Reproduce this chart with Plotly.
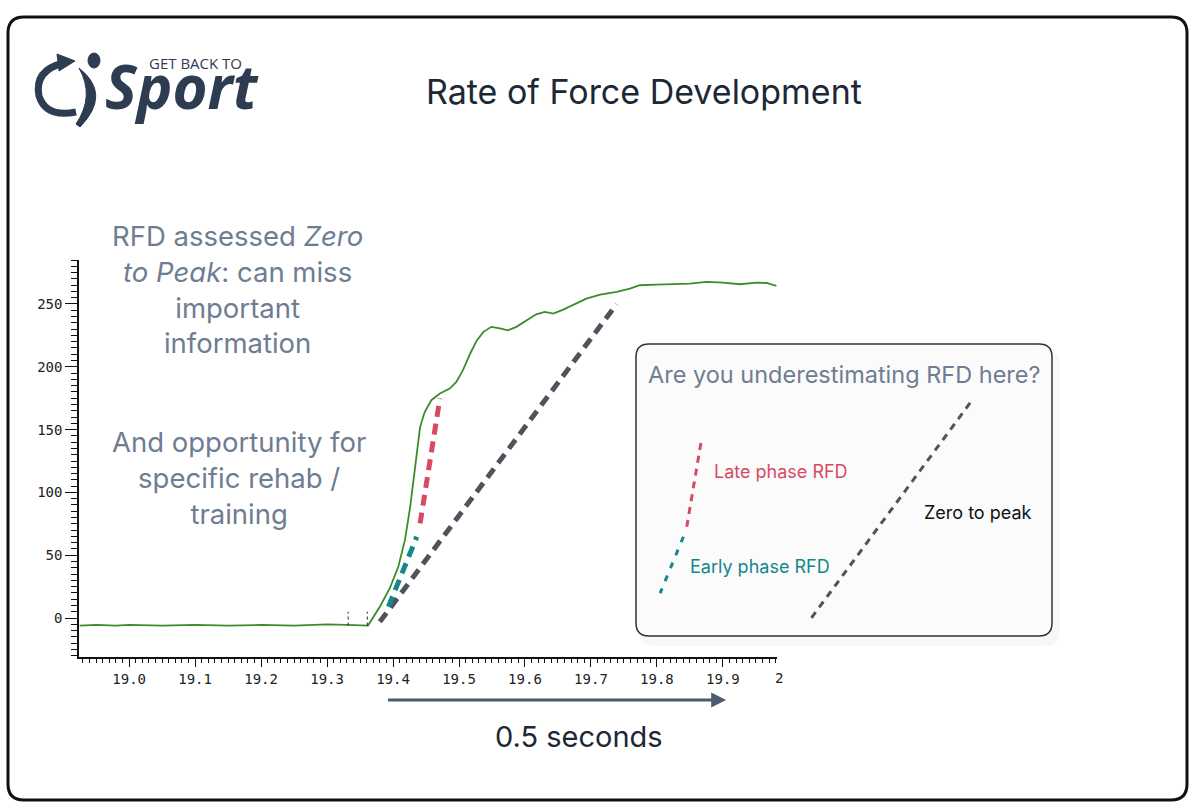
import plotly.graph_objects as go

# force trace (time in s, force in arbitrary units)
time_s = [18.925, 18.95, 18.98, 19.0, 19.05, 19.1, 19.15, 19.2, 19.25, 19.3, 19.33, 19.362,
          19.380, 19.395, 19.408, 19.418, 19.426, 19.432, 19.437, 19.441, 19.448, 19.458,
          19.471, 19.486, 19.496, 19.506, 19.517, 19.527, 19.537, 19.549, 19.562, 19.574,
          19.587, 19.602, 19.617, 19.630, 19.643, 19.658, 19.673, 19.693, 19.714, 19.739,
          19.759, 19.774, 19.799, 19.825, 19.850, 19.875, 19.900, 19.926, 19.951, 19.966, 19.981]
force = [-6, -5.5, -6, -5.5, -6, -5.5, -6, -5.5, -6, -5, -5.5, -6,
         9, 23.6, 40.8, 62, 88.5, 115, 136, 152, 164, 173.4,
         178.8, 182.7, 188, 197.3, 210.6, 221, 227.8, 231.8, 230.5, 229,
         231.8, 237, 241.8, 243.7, 242.4, 245.5, 249, 254.3, 257.5, 259.6,
         262.2, 264.9, 265.4, 265.7, 266.2, 267.6, 267, 265.7, 267, 266.7, 264.4]

# small dotted event markers on the baseline
marker_t = [19.332, 19.361]
marker_lo = -6
marker_hi = 5

# RFD slope lines on the trace
early_t = [19.393, 19.436]
early_f = [9, 64.7]
late_t = [19.441, 19.471]
late_f = [75.3, 174.8]
peak_t = [19.380, 19.739]
peak_f = [-3, 250]

# schematic lines in the inset box (box units 0..1)
inset_late_u = [0.156, 0.122]
inset_late_v = [0.661, 0.374]
inset_early_u = [0.114, 0.058]
inset_early_v = [0.340, 0.147]
inset_peak_u = [0.803, 0.418]
inset_peak_v = [0.798, 0.055]

W, H = 1200, 812
def px(x):
    return x / W
def py(y):
    return 1 - y / H

GREEN = "#3c8c2c"
TEAL = "#13878a"
RED = "#d64a63"
GREY = "#4f535b"
SLATE = "#6e7d92"
NAVY = "#1c2836"
LOGO = "#2d3c50"
FONT = "Inter"

fig = go.Figure()

fig.add_trace(go.Scatter(x=time_s, y=force, mode="lines", line=dict(color=GREEN, width=1.8),
                         hoverinfo="skip"))
for t in marker_t:
    fig.add_trace(go.Scatter(x=[t, t], y=[marker_lo, marker_hi], mode="lines",
                             line=dict(color="#222222", width=1, dash="dot"), hoverinfo="skip"))

fig.add_trace(go.Scatter(x=peak_t, y=peak_f, mode="lines", line=dict(color=GREY, width=5, dash="11px,7px")))
fig.add_trace(go.Scatter(x=early_t, y=early_f, mode="lines", line=dict(color=TEAL, width=5, dash="11px,7px")))
fig.add_trace(go.Scatter(x=late_t, y=late_f, mode="lines", line=dict(color=RED, width=5, dash="11px,7px")))

# inset lines
fig.add_trace(go.Scatter(x=inset_late_u, y=inset_late_v, xaxis="x2", yaxis="y2", mode="lines",
                         line=dict(color=RED, width=3, dash="7px,6px")))
fig.add_trace(go.Scatter(x=inset_early_u, y=inset_early_v, xaxis="x2", yaxis="y2", mode="lines",
                         line=dict(color=TEAL, width=3, dash="6px,8px")))
fig.add_trace(go.Scatter(x=inset_peak_u, y=inset_peak_v, xaxis="x2", yaxis="y2", mode="lines",
                         line=dict(color=GREY, width=3, dash="7px,6px")))


def rounded(x0, y0, x1, y1, r):
    # rounded rect path in paper coords, from pixel corners
    pts = [
        f"M {px(x0 + r)},{py(y0)}", f"L {px(x1 - r)},{py(y0)}", f"Q {px(x1)},{py(y0)} {px(x1)},{py(y0 + r)}",
        f"L {px(x1)},{py(y1 - r)}", f"Q {px(x1)},{py(y1)} {px(x1 - r)},{py(y1)}",
        f"L {px(x0 + r)},{py(y1)}", f"Q {px(x0)},{py(y1)} {px(x0)},{py(y1 - r)}",
        f"L {px(x0)},{py(y0 + r)}", f"Q {px(x0)},{py(y0)} {px(x0 + r)},{py(y0)}", "Z",
    ]
    return " ".join(pts)


def path(cmds):
    out = []
    for c in cmds:
        if isinstance(c, str):
            out.append(c)
        else:
            out.append(f"{px(c[0])},{py(c[1])}")
    return " ".join(out)


shapes = [
    # outer slide frame
    dict(type="path", xref="paper", yref="paper", path=rounded(8, 17, 1187, 800, 16),
         line=dict(color="#111111", width=3)),
    # inset shadow + box
    dict(type="path", xref="paper", yref="paper", path=rounded(640, 350, 1060, 646, 14),
         fillcolor="rgba(0,0,0,0.03)", line=dict(width=0), layer="below"),
    dict(type="path", xref="paper", yref="paper", path=rounded(636, 344, 1052, 636, 13),
         fillcolor="#fbfbfc", line=dict(color="#333333", width=1.5), layer="below"),
    # logo: swoosh arc, arrow head, runner head and body
    dict(type="path", xref="paper", yref="paper",
         path=path(["M", (64, 63), "Q", (34, 70), (39, 96), "Q", (46, 118), (76, 112)]),
         line=dict(color=LOGO, width=7)),
    dict(type="path", xref="paper", yref="paper",
         path=path(["M", (57, 54), "L", (75, 61), "L", (59, 71), "Z"]),
         fillcolor=LOGO, line=dict(color=LOGO, width=1)),
    dict(type="circle", xref="paper", yref="paper", x0=px(88), x1=px(100), y0=py(53), y1=py(68),
         fillcolor=LOGO, line=dict(color=LOGO, width=1)),
    dict(type="path", xref="paper", yref="paper",
         path=path(["M", (79, 68), "Q", (112, 94), (80, 127), "L", (76, 124), "Q", (95, 96), (79, 68), "Z"]),
         fillcolor=LOGO, line=dict(color=LOGO, width=1)),
]


def label(text, x, y, size, color, family=FONT, xanchor="center"):
    return dict(text=text, x=px(x), y=py(y), xref="paper", yref="paper", showarrow=False,
                xanchor=xanchor, yanchor="middle", align="center",
                font=dict(family=family, size=size, color=color))


annotations = [
    label("Rate of Force Development", 644, 92, 34, NAVY),
    label("<b><i>Sport</i></b>", 103, 86, 60, LOGO, family="Open Sans", xanchor="left"),
    label("GET BACK TO", 147, 63, 15, LOGO, family="Open Sans", xanchor="left"),
    label("RFD assessed <i>Zero</i><br><i>to Peak</i>: can miss<br>important<br>information",
          237, 289, 27.5, SLATE),
    label("And opportunity for<br>specific rehab /<br>training", 239, 478, 27.5, SLATE),
    label("0.5 seconds", 579, 736, 29, NAVY),
    # clipped last tick label of the screenshot
    label("2", 773, 678, 14, "#222222", family="DejaVu Sans Mono", xanchor="left"),
    # time arrow under the axis
    dict(text="", x=19.905, y=py(700), xref="x", yref="paper", axref="x", ax=19.39, ayref="pixel", ay=0,
         showarrow=True, arrowhead=2, arrowsize=1, arrowwidth=3, arrowcolor="#4d5b70"),
    # inset text
    label("Are you underestimating RFD here?", 844, 374, 23.5, SLATE),
    label("Late phase RFD", 712, 471, 18, RED, xanchor="left"),
    label("Early phase RFD", 688, 566, 18, TEAL, xanchor="left"),
    label("Zero to peak", 922, 512, 18, "#111111", xanchor="left"),
]

tickfont = dict(family="DejaVu Sans Mono", size=14, color="#222222")

fig.update_layout(
    width=W, height=H, showlegend=False,
    margin=dict(l=0, r=0, t=0, b=0),
    paper_bgcolor="white", plot_bgcolor="rgba(0,0,0,0)",
    shapes=shapes, annotations=annotations,
    xaxis=dict(domain=[px(79), px(777)], range=[18.924, 19.982], showgrid=False, zeroline=False,
               showline=True, linecolor="#111111", linewidth=1.5,
               ticks="outside", ticklen=8, tickwidth=1.2, tickcolor="#111111", dtick=0.1, tick0=19.0,
               tickformat=".1f", tickfont=tickfont, anchor="y",
               minor=dict(ticks="outside", dtick=0.01, ticklen=4, tickcolor="#111111", showgrid=False)),
    yaxis=dict(domain=[py(657), py(260)], range=[-31, 285], showgrid=False, zeroline=False,
               showline=True, linecolor="#111111", linewidth=1.5,
               ticks="outside", ticklen=12, tickwidth=1.2, tickcolor="#111111", dtick=50, tick0=0,
               tickfont=tickfont, anchor="x",
               minor=dict(ticks="outside", dtick=5, ticklen=6, tickcolor="#111111", showgrid=False)),
    xaxis2=dict(domain=[px(636), px(1052)], range=[0, 1], visible=False, anchor="y2"),
    yaxis2=dict(domain=[py(636), py(344)], range=[0, 1], visible=False, anchor="x2"),
)

fig.write_html("out.html", config={"displayModeBar": False},
               post_script="document.body.style.margin='0px';")
